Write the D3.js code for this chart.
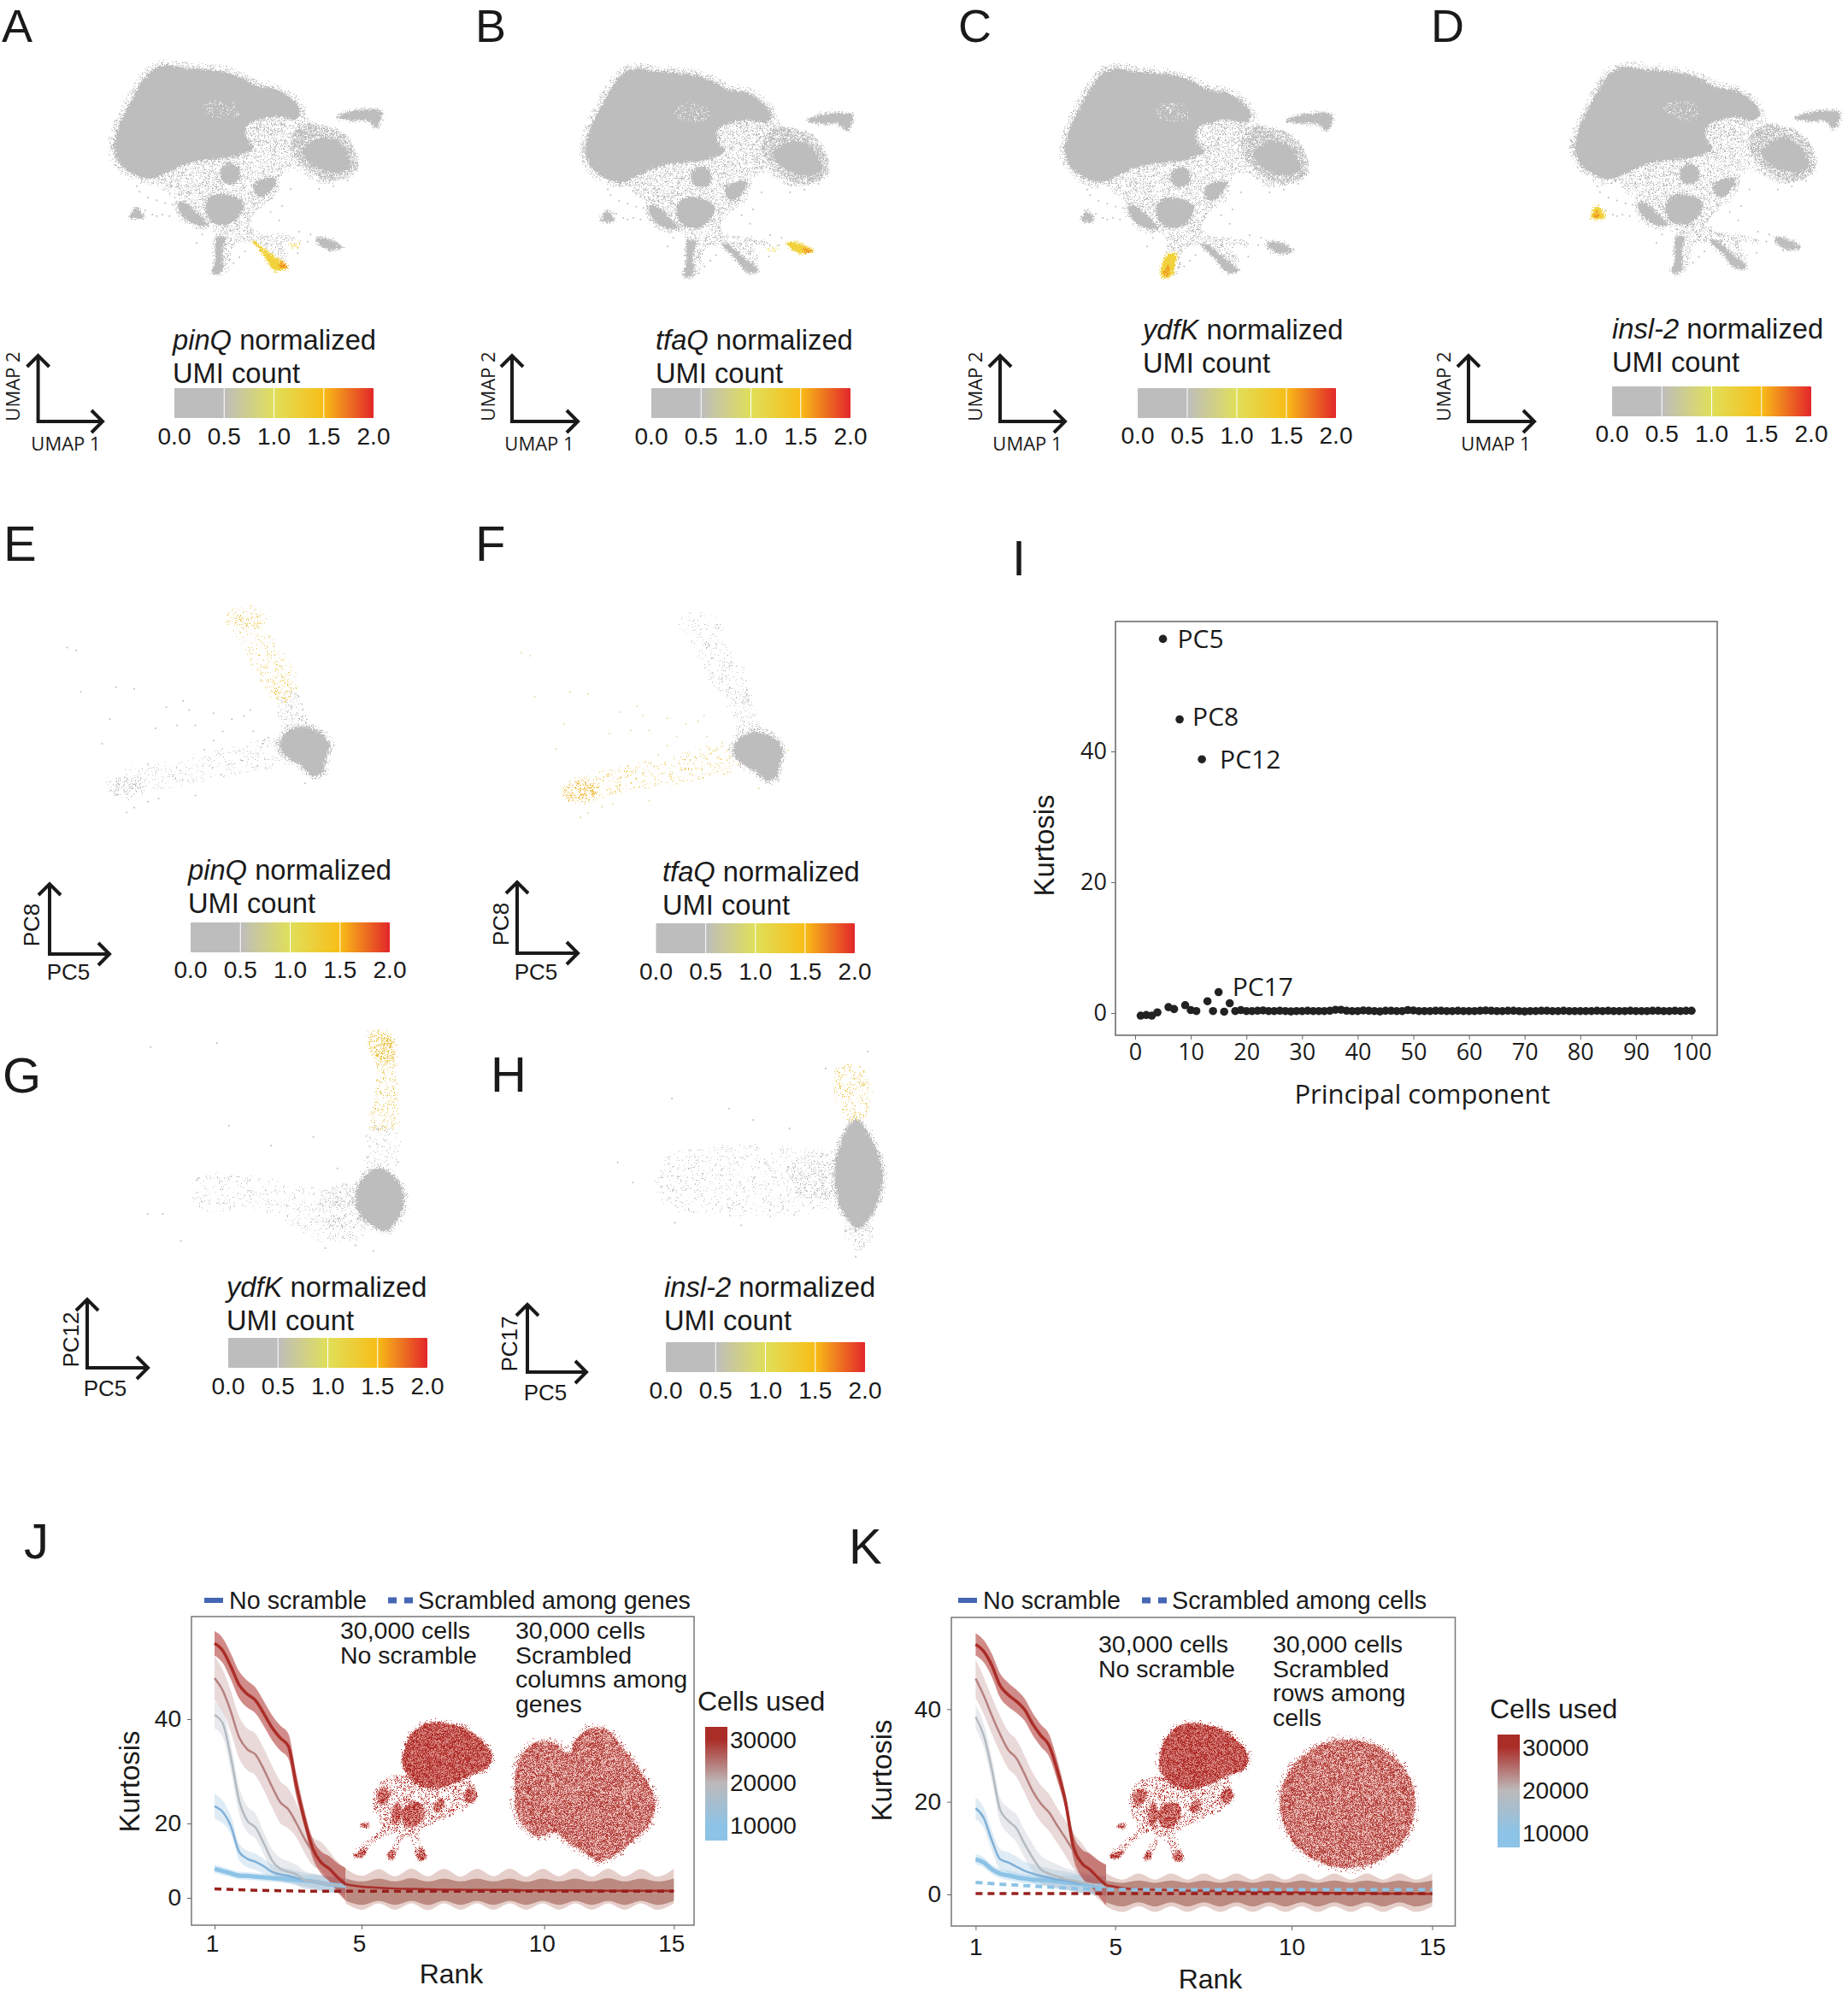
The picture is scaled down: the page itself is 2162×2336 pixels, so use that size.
<!DOCTYPE html>
<html>
<head>
<meta charset="utf-8">
<title>Kurtosis of principal components</title>
<script src="https://cdn.jsdelivr.net/npm/d3@7"></script>
<style>
    html, body { margin: 0; padding: 0; background: #fff; }
    svg { display: block; }
    text { font-family: "Liberation Sans", Arial, sans-serif; fill: #1a1a1a; }
    .soft text, text.soft { font-family: "Open Sans", sans-serif; }
</style>
</head>
<body>
<svg id="chart" width="2162" height="2336"></svg>
<script>
// ---- data ----

// UMAP outlines, in UMAP units
const umapMain = [[0.4,4.6],[0.45,5],[0.6,5.5],[0.9,6.1],[1.25,6.75],[1.7,7.35],[2.15,7.55],[2.9,7.45],[3.6,7.4],[4.3,7.3],[4.9,7.1],[5.4,6.82],[6.1,6.7],[6.6,6.4],[6.95,5.95],[6.8,5.65],[6.1,5.75],[5.6,5.65],[5.1,5.45],[5.05,5],[5.3,4.65],[4.7,4.35],[4,4.25],[3.2,4.15],[2.5,3.9],[1.7,3.55],[1.1,3.7],[0.6,4.1]];
const umapRightLobe = [[7,4.5],[7.4,4.9],[7.8,5],[8.3,4.8],[8.6,4.4],[8.7,4],[8.4,3.8],[8,3.8],[7.4,4.05]];
const umapRightOuter = [[6.6,5],[7.2,5.5],[7.7,5.45],[8.4,5.2],[8.85,4.6],[8.95,3.9],[8.5,3.55],[7.9,3.5],[7.2,3.9],[6.8,4.3]];
const umapBridge = [[5.2,5.65],[6.1,5.85],[6.9,6],[7.3,5.55],[7.7,5.3],[7.1,4.9],[6.7,4.4],[6.2,4.5],[5.4,4.7],[5.15,5.1]];
const umapSparse = [[1.9,3.6],[3,4.3],[5,5],[5.2,5.6],[6.8,5.7],[7.2,5.2],[7,4.3],[7.8,3.7],[8.2,3.5],[7.6,3.4],[6.7,3.9],[6.3,3.7],[6.1,3],[5.6,2.6],[5.2,2.1],[5.3,1.75],[6.6,1.55],[7,1.3],[6.3,1.35],[6.5,0.7],[5.8,0.7],[5.3,1.3],[4.6,1.2],[4.4,0.35],[3.9,0.35],[4,1.5],[3.6,2],[2.8,2.4],[2.5,2.9],[2.1,3.2]];
const umapPocket = [[3.6,6.2],[4.6,6.25],[4.75,5.75],[3.7,5.8]];
const umapBlobs = [
    [[4.15,3.9],[4.3,4.05],[4.55,4.1],[4.8,3.9],[4.8,3.55],[4.6,3.4],[4.3,3.4],[4.15,3.6]],
    [[5.4,3],[5.3,3.3],[5.6,3.55],[6.1,3.55],[5.95,3.2],[5.6,2.9]],
    [[3.65,2.75],[3.9,3],[4.6,2.95],[4.95,2.7],[4.8,2.25],[4.4,1.95],[3.9,2],[3.65,2.3]],
    [[2.65,2.7],[2.85,2.75],[3.5,2.2],[3.7,1.95],[3.4,1.9],[2.95,2.1],[2.7,2.4]]
];
const umapTriangle = [[0.98,2.2],[1.2,2.55],[1.45,2.2]];
const umapStripTop = [[8.2,5.72],[8.9,5.95],[9.8,5.9],[9.6,5.35],[9.3,5.6],[8.7,5.62]];
const umapStripRight = [[7.5,1.45],[7.9,1.45],[8.4,1.15],[8,1.05],[7.6,1.25]];
const umapTailBottom = [[4,1.5],[4.3,1.5],[4.2,0.95],[4.2,0.3],[3.85,0.25],[3.95,0.7]];
const umapTailRight = [[5.2,1.4],[5.4,1.4],[5.95,0.95],[6.5,0.45],[6.1,0.4],[5.75,0.8]];
const umapScatter = [[1.3,3.1],[1.6,2.9],[1.2,3.3],[1.5,2.45],[1.75,2.3],[1.9,2.25],[2.1,2.3],[2.35,2.25],[2.45,2.65],[1.9,2.8],[2.2,2.7],[6.6,3.2],[6.3,2.6],[5.9,2.4],[6.2,2.1],[6.9,1.7],[7.3,1.6],[7.2,1.35],[6.85,0.95],[5,1],[4.8,0.8],[4.6,0.6],[7.6,3.2],[8.1,3.3],[8.6,3.5],[3.3,1.3],[3.5,1.6]];

// where each gene is expressed on the UMAP
const pinqHigh = [[5.25,1.4],[5.35,1.35],[5.85,0.95],[6.5,0.45],[6,0.35],[5.75,0.75]];
const pinqCore = [[6.25,0.62],[6.5,0.5],[6.42,0.4],[6.2,0.45]];
const pinqSpot = [[6.55,1.3],[6.95,1.25],[6.85,1.1],[6.6,1.15]];
const tfaqHigh = [[7.5,1.45],[7.95,1.4],[8.4,1.15],[8.05,1.05],[7.6,1.25]];
const tfaqCore = [[8.05,1.28],[8.4,1.15],[8.1,1.05]];
const tfaqSpot = [[6.85,1.3],[7.2,1.3],[7.1,1.15],[6.85,1.15]];
const ydfkHigh = [[3.95,0.95],[4.3,1.05],[4.25,0.55],[4.15,0.25],[3.82,0.22]];
const ydfkCore = [[3.9,0.55],[4.08,0.6],[4.05,0.3],[3.88,0.28]];
const insl2High = [[0.98,2.2],[1.2,2.6],[1.48,2.2]];
const insl2Core = [[1.02,2.22],[1.2,2.42],[1.3,2.22]];

// PC5 against PC8 (panels E, F)
const pc8Blob = [[9.15,2.9],[9.35,3.35],[9.9,3.55],[10.5,3.35],[10.78,2.95],[10.65,2.4],[10.6,2.1],[10.25,1.95],[9.9,2.25],[9.4,2.55]];
const pc8ArmNear = [[9.1,4.45],[9.6,4.85],[10,4],[10.25,3.4],[9.5,3.3],[9.25,3.6]];
const pc8ArmFar = [[7.35,7.1],[7.7,7.5],[8.65,7.3],[8.95,6.4],[9.7,5.3],[9.75,4.6],[9.1,4.3],[8.55,5],[8.1,5.8],[7.75,6.5]];
const pc8ArmTip = [[7.6,7.15],[8.5,7.2],[8.5,6.8],[7.8,6.8]];
const pc8ArmMid = [[8.75,5.1],[9.45,5.2],[9.5,4.5],[9.1,4.5]];
const pc8ArmLeft = [[3.5,1.85],[4.2,2.2],[6,2.5],[8,3],[9.2,3.2],[9.4,2.4],[8.3,2.05],[6.4,1.7],[5,1.45],[4.2,1.15],[3.6,1.4]];
const pc8ArmLeftTip = [[3.6,1.75],[4.6,1.9],[4.7,1.5],[3.7,1.35]];
const pc8Scatter = [[2.2,6.15],[2.5,6.05],[2.65,4.7],[3.8,4.85],[4.4,4.8],[5.45,4.2],[6,4.4],[5.8,3.6],[5.1,3.5],[7,3.1],[6.4,3.6],[7.3,3.4],[8.3,3.4],[8.6,3],[3.35,3],[4.15,0.75],[4.85,1.1],[8,3.9],[7,4],[6.2,4.1],[7.6,3.8],[8.8,3.2],[3.6,3.8],[5.2,1.2],[4.4,0.9],[6.4,1.3],[10.95,2.95],[10,1.7],[8.2,4.1],[6.7,2.8]];

// PC5 against PC12 (panel G)
const pc12Blob = [[5.9,3.4],[6,4],[6.25,4.4],[6.55,4.1],[6.7,3.5],[6.65,2.8],[6.4,2.2],[6.1,2.5],[5.95,2.9]];
const pc12ArmHigh = [[6.05,9.1],[6.5,9.15],[6.6,8],[6.6,6.7],[6.6,5.8],[6.1,5.8],[6.2,6.7],[6.25,8]];
const pc12ArmTip = [[6.12,9.05],[6.5,9.05],[6.5,8.1],[6.25,8.1]];
const pc12ArmLow = [[6.1,5.8],[6.6,5.8],[6.55,4.4],[6,4.1],[6.1,5]];
const pc12ArmLeft = [[3.2,4],[3.6,4.2],[5.6,3.6],[6,3.6],[6,2],[5.3,1.9],[4.2,3],[3.3,2.9]];
const pc12ArmLeftNear = [[5.3,3.5],[6,3.8],[6,2.4],[5.3,2.5]];
const pc12Scatter = [[2.5,8.65],[3.6,8.8],[3.8,5.9],[2.7,2.8],[2.45,2.8],[3,1.85],[5.4,1.6],[5.9,1.7],[4.5,5.2],[5.6,4.4],[6.2,1.5],[5.2,5.5]];

// PC5 against PC17 (panel H)
const pc17Blob = [[13.85,4.1],[13.95,5.3],[14.2,6.1],[14.5,5.3],[14.65,4.1],[14.5,2.9],[14.25,2.3],[14,2.8]];
const pc17ArmHigh = [[13.8,7.4],[14,8.05],[14.35,7.9],[14.45,7],[14.3,6.05],[14.1,6.05]];
const pc17ArmLow = [[14,2.3],[14.5,2.3],[14.25,1.5]];
const pc17ArmLeft = [[11,4.8],[11.3,5],[13,5.2],[13.8,4.7],[13.9,3.2],[12.5,2.7],[11,3.2]];
const pc17ArmLeftNear = [[13.2,4.7],[13.9,4.9],[13.9,3.4],[13.2,3.5]];
const pc17Scatter = [[11.15,6.85],[12.1,6.5],[12.5,6.1],[10.25,4.6],[10.5,3.9],[13.1,5.8],[12.3,2.4],[11.2,2.5],[14.2,1.3],[14.2,1.9],[13.7,7.9],[14.4,8.5]];

// panel I: kurtosis of principal components 1 to 100
const kurtosisPC = [-0.4,-0.3,-0.4,0.1,57.2,0.9,0.6,44.9,1.2,0.45,0.3,38.8,1.8,0.3,3.2,0.2,1.5,0.3,0.45,0.3,
    0.3,0.35,0.4,0.3,0.3,0.35,0.3,0.25,0.3,0.3,0.35,0.3,0.3,0.3,0.35,0.5,0.5,0.35,0.3,0.3,
    0.4,0.35,0.3,0.25,0.35,0.35,0.3,0.3,0.45,0.4,0.3,0.3,0.3,0.35,0.35,0.3,0.3,0.35,0.3,0.3,
    0.3,0.35,0.4,0.35,0.3,0.3,0.35,0.35,0.3,0.25,0.3,0.3,0.35,0.35,0.3,0.3,0.35,0.3,0.3,0.3,
    0.3,0.3,0.35,0.3,0.35,0.3,0.3,0.3,0.35,0.3,0.3,0.3,0.35,0.35,0.3,0.3,0.35,0.3,0.35,0.35];
const labelledPCs = ["PC5","PC8","PC12","PC17"];

// panels J, K: kurtosis by rank, for a growing number of cells
const rankSteps = [1,1.25,1.5,1.75,2,2.25,2.5,2.75,3,3.25,3.5,3.75,4,4.25,4.5,4.75,5];
const cellCounts = [8000,12000,18000,24000,30000];
const meanJ8k  = [7.8,7.2,6.6,6,5.9,5.7,5.5,5.3,5.2,5,4.8,4.6,4.4,4,3.6,3.4,3.2];
const meanJ12k = [23.3,22.2,19.2,12.4,10.5,9.7,8.5,7,6.3,5.9,5.3,4.7,4.4,4,3.6,3.4,3.2];
const meanJ18k = [40.8,39.2,32.6,24.4,20.5,18.9,14.7,10.1,7.8,7,6.3,4.7,4.4,4,3.6,3.4,3.2];
const meanJ24k = [47.9,45.5,41.4,36.5,34.2,33.2,30.4,27.1,24.1,22.7,20,15.8,12.4,11.2,8.5,5.5,3.6];
const meanJ30k = [54.6,53.2,50.1,46.6,44.8,43.6,41.1,38.4,36.4,34.8,27.1,20.5,13.1,9.5,7.8,5.5,3.6];
const meanK8k  = [7.6,6.9,5.4,4.5,4.1,3.7,3.4,3.2,3.1,3,2.8,2.6,2.4,2.2,2,1.9,1.8];
const meanK12k = [18.6,16.5,11.6,7.6,6.9,6,5.1,4.5,4,3.6,3.2,3,2.6,2.4,2.2,2,1.8];
const meanK18k = [38.3,34.3,26.9,18.3,15.9,14.3,10.9,7.9,5.4,4.5,3.9,3.3,3,2.6,2.3,2,1.8];
const meanK24k = [46.6,42.9,38.6,34.6,31.2,29.4,26,22.3,19.6,17.7,14.9,12.2,9.4,7.3,4.8,3.3,2];
const meanK30k = [54,52.5,49.4,45.1,43.1,41.7,39.9,36.8,34.3,32.2,26.9,20.2,10.3,6.8,5.4,3.6,2];
const spread8k  = [1.1,1.1,1,1,1,1,1,1,1,1.1,1.3,1.5,1.7,2,2,2,2];
const spread12k = [2.4,2.2,2.2,2.2,2.2,2.2,2,2,2,2,2,2,2,2,2,2,2];
const spread18k = [2.6,2.6,2.6,2.6,2.8,3,3,3,3,2.8,2.6,2.4,2.2,2.2,2.2,2.2,2.2];
const spread24k = [4.2,4,4,4,4,4,4,4,4,4,3.8,3.8,3.8,3.8,4,4.2,4.4];
const spread30k = [2.4,2.4,2.5,2.6,2.6,2.5,2.4,2.4,2.4,2.4,2.2,1.8,2.6,3,3.4,3.8,4.4];

const rankTail = [5,5.5,6,6.5,7,7.5,8,8.5,9,9.5,10,10.5,11,11.5,12,12.5,13,13.5,14,14.5,15];
const tailMeanJ = [3.6,3,2.7,2.5,2.4,2.3,2.2,2.2,2.1,2.1,2.1,2,2,2,2,2,1.9,1.9,1.9,1.9,1.9];
const tailMeanK = [2,1.4,1.1,1,0.9,0.8,0.8,0.7,0.6,0.6,0.5,0.5,0.4,0.4,0.3,0.3,0.3,0.2,0.2,0.2,0.1];
const tailOuterUpJ = [7.8,5.9,7.7,5.8,7.9,5.8,7.8,5.7,7.8,5.8,7.9,5.7,7.8,5.8,7.8,5.7,7.9,5.8,7.7,5.7,7.8];
const tailInnerUpJ = [5.2,4.4,5.2,4.4,5.3,4.4,5.2,4.4,5.2,4.4,5.2,4.3,5.2,4.4,5.2,4.4,5.3,4.4,5.2,4.4,5.2];
const tailInnerLoJ = [-0.8,-1.9,-0.8,-1.9,-0.8,-1.9,-0.8,-1.9,-0.8,-1.9,-0.8,-1.9,-0.8,-1.9,-0.8,-1.9,-0.8,-1.9,-0.8,-1.9,-0.8];
const tailOuterLoJ = [-1.5,-3.2,-1.5,-3.2,-1.5,-3.3,-1.5,-3.2,-1.5,-3.2,-1.5,-3.2,-1.5,-3.2,-1.5,-3.2,-1.5,-3.2,-1.5,-3.2,-1.5];
const tailOuterUpK = [4.5,3.2,4.5,3.2,4.5,3.2,4.5,3.2,4.5,3.2,4.5,3.2,4.5,3.2,4.5,3.2,4.5,3.2,4.5,3.2,4.5];
const tailInnerUpK = [3,2.5,3,2.5,3,2.5,3,2.5,3,2.5,3,2.5,3,2.5,3,2.5,3,2.5,3,2.5,3];
const tailInnerLoK = [-1.7,-2.6,-1.7,-2.6,-1.7,-2.6,-1.7,-2.6,-1.7,-2.6,-1.7,-2.6,-1.7,-2.6,-1.7,-2.6,-1.7,-2.6,-1.7,-2.6,-1.7];
const tailOuterLoK = [-2.6,-3.8,-2.6,-3.8,-2.6,-3.8,-2.6,-3.8,-2.6,-3.8,-2.6,-3.8,-2.6,-3.8,-2.6,-3.8,-2.6,-3.8,-2.6,-3.8,-2.6];
const scrambleRanks = [1,2,3,4,5,7,9,11,13,15];
const scrambledJ = [2.4,2.1,1.9,1.8,1.8,1.8,1.8,1.8,1.8,1.8];
const scrambledKLow = [2.6,2.1,1.7,1.3,1.1,1,1,1,1,1];
const scrambledKRed = [0.2,0.2,0.2,0.2,0.2,0.2,0.2,0.2,0.2,0.2];

const rankTicks = ["1","5","10","15"];
const rankTickAtJ = [1,5.48,11.05,15];
const rankTickAtK = [1,5.28,10.69,15];
const kurtosisTicks = [0,20,40];

// shapes of the small red UMAPs inside J and K
const insetMain = [[7.55,7],[7.6,7.6],[7.85,8.15],[8.4,8.52],[9.2,8.5],[9.9,8.25],[10.65,7.45],[10.55,7],[9.9,6.7],[9.3,6.4],[8.5,6.25],[7.9,6.5]];
const insetBlobs = [
    [[6.65,6.1],[6.9,6.25],[7.1,6.05],[6.9,5.7],[6.7,5.7]],
    [[9.7,6.1],[10,6.3],[10.15,6],[9.95,5.75],[9.75,5.8]],
    [[8.6,5.55],[8.9,5.9],[9,5.7],[8.75,5.4]],
    [[7.5,5.4],[7.8,5.75],[8.2,5.7],[8.3,5.3],[7.95,4.9],[7.6,4.95]],
    [[7.15,5.4],[7.35,5.75],[7.5,5.3],[7.3,4.95],[7.2,5]],
    [[5.8,3.9],[6.3,4.1],[6.1,3.8]],
    [[6.05,4.95],[6.35,5.05],[6.3,4.85]],
    [[7,3.9],[7.2,4.1],[7.25,3.8],[7.05,3.75]],
    [[8.05,3.95],[8.25,4.1],[8.35,3.75],[8.05,3.75]]
];
const insetSparse = [[7.4,6.7],[8.8,6.2],[10,6.5],[9.9,5.7],[8.8,5.1],[8.1,4.7],[8.35,3.8],[8.1,3.8],[7.7,4.6],[7.2,3.85],[7.05,3.85],[7.4,4.7],[6.9,4.6],[5.9,3.85],[5.85,4],[6.8,4.9],[6.5,5.5],[6.7,6.4]];
const insetScrambledGenes = [[11.46,6],[11.6,7.2],[12,7.75],[12.5,7.9],[13,7.75],[13.35,7.45],[13.6,7.9],[14,8.3],[14.7,8.3],[15.3,7.6],[15.9,6.8],[16.4,5.8],[16.2,5],[15.6,4.4],[15,3.9],[14.4,3.7],[13.9,4],[13.4,4.3],[12.9,4.7],[12.3,4.55],[11.8,4.9],[11.5,5.5]];
const insetScrambledCells = [[16.52,5.73],[16.34,6.59],[15.83,7.32],[15.06,7.81],[14.15,7.98],[13.24,7.81],[12.47,7.32],[11.96,6.59],[11.78,5.73],[11.96,4.87],[12.47,4.14],[13.24,3.65],[14.15,3.48],[15.06,3.65],[15.83,4.14],[16.34,4.87]];

// colour legends
const umiTicks = [0,0.5,1,1.5,2];
const umiColors = ["#bdbdbd","#bdbdbd","#e0df5a","#f8bd17","#e2262a"];
const geneNames = ["pinQ","tfaQ","ydfK","insl-2"];
const cellsLegendTicks = [10000,20000,30000];
const cellsColors = ["#8cc3e6","#bdb9b9","#ab2d28"];

// ---- page ----
const svg = d3.select("#chart");
const defs = svg.append("defs");
const INK = "#1a1a1a", GRAY = "#bdbdbd", YEL = "#f1d23c", PALE = "#e9c548", ORG = "#f08c1e";

// grainy textures standing in for the thousands of overlapping cells
function grainFilter(id, freq, slope, cut, shake, seed) {
    const f = defs.append("filter").attr("id", id)
        .attr("x", "-15%").attr("y", "-15%").attr("width", "130%").attr("height", "130%")
        .attr("color-interpolation-filters", "sRGB");
    f.append("feTurbulence").attr("type", "fractalNoise").attr("baseFrequency", freq)
        .attr("numOctaves", 2).attr("seed", seed).attr("result", "noise");
    f.append("feColorMatrix").attr("in", "noise").attr("type", "matrix")
        .attr("values", "0 0 0 0 0  0 0 0 0 0  0 0 0 0 0  " + slope + " 0 0 0 " + cut).attr("result", "mask");
    f.append("feComposite").attr("in", "SourceGraphic").attr("in2", "mask").attr("operator", "in").attr("result", "grain");
    f.append("feDisplacementMap").attr("in", "grain").attr("in2", "noise").attr("scale", shake)
        .attr("xChannelSelector", "G").attr("yChannelSelector", "B");
}
grainFilter("fuzz", 0.6, 0, 1, 9, 3);
grainFilter("thin", 0.75, 14, -9.2, 9, 4);
grainFilter("rare", 0.75, 14, -8.6, 9, 5);
grainFilter("some", 0.75, 14, -7.6, 9, 7);
grainFilter("many", 0.75, 14, -6.4, 8, 11);

const outline = d3.line().curve(d3.curveCatmullRomClosed.alpha(0.5));

function drawShape(g, x, y, pts, color, grain) {
    g.append("path")
        .attr("d", outline(pts.map(d => [x(d[0]), y(d[1])])))
        .attr("fill", color)
        .attr("filter", grain ? "url(#" + grain + ")" : null);
}

// a solid cluster with a loose ring of cells round it
function drawCluster(g, x, y, pts, color, ring) {
    const d = outline(pts.map(p => [x(p[0]), y(p[1])]));
    g.append("path").attr("d", d).attr("fill", color).attr("stroke", color).attr("stroke-width", ring)
        .attr("filter", "url(#some)");
    g.append("path").attr("d", d).attr("fill", color).attr("filter", "url(#fuzz)");
}

function drawDots(g, x, y, pts, color, r) {
    g.selectAll(null).data(pts).join("circle")
        .attr("cx", d => x(d[0])).attr("cy", d => y(d[1])).attr("r", r).attr("fill", color);
}

function panelLetter(letter, px, py, size) {
    svg.append("text").attr("x", px).attr("y", py).attr("font-size", size || 58).text(letter);
}

function axisArrows(cfg) {
    const g = svg.append("g").attr("fill", "none").attr("stroke", INK).attr("stroke-width", 4);
    const s = 13;
    g.append("path").attr("d", "M" + cfg.cx + "," + cfg.top + "V" + cfg.cy + "H" + cfg.right);
    g.append("path").attr("d", "M" + (cfg.cx - s) + "," + (cfg.top + s) + "L" + cfg.cx + "," + cfg.top + "L" + (cfg.cx + s) + "," + (cfg.top + s));
    g.append("path").attr("d", "M" + (cfg.right - s) + "," + (cfg.cy - s) + "L" + cfg.right + "," + cfg.cy + "L" + (cfg.right - s) + "," + (cfg.cy + s));
    const fam = cfg.pc ? "Liberation Sans" : "Open Sans";
    svg.append("text").attr("x", cfg.xLabelX).attr("y", cfg.xLabelY).attr("text-anchor", "middle")
        .attr("font-size", cfg.size).style("font-family", fam).text(cfg.xLabel);
    svg.append("text").attr("transform", "translate(" + cfg.yLabelX + "," + cfg.yLabelY + ") rotate(-90)")
        .attr("text-anchor", "middle").attr("font-size", cfg.size).style("font-family", fam).text(cfg.yLabel);
}

// gradient shared by all the UMI colour bars
const umiColor = d3.scaleLinear().domain(umiTicks).range(umiColors);
const umiGrad = defs.append("linearGradient").attr("id", "umiGrad");
d3.range(0, 2.01, 0.125).forEach(function(v) {
    umiGrad.append("stop").attr("offset", v / 2).attr("stop-color", umiColor(v));
});

function umiLegend(gene, cfg) {
    const title = svg.append("text").attr("x", cfg.titleX).attr("y", cfg.titleY).attr("font-size", 32.7);
    title.append("tspan").attr("font-style", "italic").text(gene);
    title.append("tspan").text(" normalized");
    svg.append("text").attr("x", cfg.titleX).attr("y", cfg.titleY + 39).attr("font-size", 32.7).text("UMI count");

    const x = d3.scaleLinear().domain([0, 2]).range([cfg.barL, cfg.barR]);
    svg.append("rect").attr("x", cfg.barL).attr("y", cfg.barT).attr("width", cfg.barR - cfg.barL)
        .attr("height", 35).attr("rx", 1).attr("fill", "url(#umiGrad)");
    svg.append("g").selectAll("line").data(umiTicks.slice(1, 4)).join("line")
        .attr("x1", d => x(d)).attr("x2", d => x(d))
        .attr("y1", cfg.barT).attr("y2", cfg.barT + 35)
        .attr("stroke", "#fff").attr("stroke-width", 1);
    svg.append("g").selectAll("text").data(umiTicks).join("text")
        .attr("x", d => x(d)).attr("y", cfg.tickY).attr("text-anchor", "middle").attr("font-size", 28)
        .text(d => d.toFixed(1));
}

// ---- A to D: UMAP panels ----
const umapPanels = [
    { letterX: 2, x0: 120, y0: 61, k: 33.33, high: pinqHigh, core: pinqCore, spot: pinqSpot, hide: umapTailRight,
      arrows: { cx: 44.6, cy: 493, top: 416, right: 120, xLabelX: 77, yLabelX: 23 },
      legend: { titleX: 202, titleY: 409, barL: 204, barR: 437, barT: 454, tickY: 520 } },
    { letterX: 556, x0: 671, y0: 65, k: 33.33, high: tfaqHigh, core: tfaqCore, spot: tfaqSpot, hide: umapStripRight,
      arrows: { cx: 599, cy: 493, top: 416, right: 676, xLabelX: 631, yLabelX: 579 },
      legend: { titleX: 767, titleY: 409, barL: 762, barR: 995, barT: 454, tickY: 520 } },
    { letterX: 1121, x0: 1232, y0: 65, k: 33.33, high: ydfkHigh, core: ydfkCore, spot: null, hide: umapTailBottom,
      arrows: { cx: 1170, cy: 493, top: 416, right: 1246, xLabelX: 1202, yLabelX: 1149 },
      legend: { titleX: 1337, titleY: 397, barL: 1331, barR: 1563, barT: 454, tickY: 518.5 } },
    { letterX: 1674, x0: 1829, y0: 63, k: 33, high: insl2High, core: insl2Core, spot: null, hide: umapTriangle,
      arrows: { cx: 1718, cy: 493, top: 416, right: 1795, xLabelX: 1750, yLabelX: 1697 },
      legend: { titleX: 1886, titleY: 396, barL: 1886, barR: 2119, barT: 452, tickY: 517 } }
];

umapPanels.forEach(function(p, i) {
    panelLetter("ABCD"[i], p.letterX, 49, 54);
    const x = d3.scaleLinear().domain([0, 1]).range([p.x0, p.x0 + p.k]);
    const y = d3.scaleLinear().domain([0, 8]).range([p.y0 + 8 * p.k, p.y0]);
    const g = svg.append("g");

    drawShape(g, x, y, umapSparse, GRAY, "some");
    drawShape(g, x, y, umapBridge, GRAY, "some");
    drawShape(g, x, y, umapRightOuter, GRAY, "many");
    drawCluster(g, x, y, umapMain, GRAY, 12);
    drawCluster(g, x, y, umapRightLobe, GRAY, 12);
    drawShape(g, x, y, umapPocket, "#fff", "rare");
    umapBlobs.forEach(b => drawCluster(g, x, y, b, GRAY, 9));
    [umapTriangle, umapStripTop, umapStripRight, umapTailBottom, umapTailRight].forEach(function(b) {
        if (b !== p.hide) drawCluster(g, x, y, b, GRAY, 4);
    });
    drawDots(g, x, y, umapScatter, GRAY, 1);
    drawCluster(g, x, y, p.high, YEL, 3);
    drawShape(g, x, y, p.core, ORG, "many");
    if (p.spot) drawShape(g, x, y, p.spot, YEL, "some");

    axisArrows(Object.assign({ xLabel: "UMAP 1", yLabel: "UMAP 2", xLabelY: 527, yLabelY: 452, size: 22 }, p.arrows));
    umiLegend(geneNames[i], p.legend);
});

// ---- E to H: principal component panels ----
function pcScales(x0, y0, kx, ky) {
    return {
        x: d3.scaleLinear().domain([0, 1]).range([x0, x0 + kx]),
        y: d3.scaleLinear().domain([0, 10]).range([y0 + 10 * ky, y0])
    };
}

const e = pcScales(0, 620, 35.7, 35.7);
const f = pcScales(531, 626, 35.7, 35.7);
const gs = pcScales(0, 1180, 70.5, 33.33);
const hs = pcScales(0, 1180, 70.5, 33.33);

// E: pinQ along the upper arm
let pg = svg.append("g");
drawShape(pg, e.x, e.y, pc8ArmLeft, GRAY, "thin");
drawShape(pg, e.x, e.y, pc8ArmLeftTip, GRAY, "rare");
drawShape(pg, e.x, e.y, pc8ArmNear, GRAY, "rare");
drawShape(pg, e.x, e.y, pc8ArmFar, PALE, "thin");
drawShape(pg, e.x, e.y, pc8ArmTip, PALE, "rare");
drawShape(pg, e.x, e.y, pc8ArmMid, PALE, "rare");
drawCluster(pg, e.x, e.y, pc8Blob, GRAY, 9);
drawDots(pg, e.x, e.y, pc8Scatter, GRAY, 1);

// F: tfaQ along the left arm
pg = svg.append("g");
drawShape(pg, f.x, f.y, pc8ArmFar, GRAY, "thin");
drawShape(pg, f.x, f.y, pc8ArmNear, GRAY, "rare");
drawShape(pg, f.x, f.y, pc8ArmLeft, PALE, "thin");
drawShape(pg, f.x, f.y, pc8ArmLeftTip, "#efb52e", "some");
drawCluster(pg, f.x, f.y, pc8Blob, GRAY, 9);
drawDots(pg, f.x, f.y, pc8Scatter, "#e4dcae", 1);

// G: ydfK
pg = svg.append("g");
drawShape(pg, gs.x, gs.y, pc12ArmLeft, GRAY, "thin");
drawShape(pg, gs.x, gs.y, pc12ArmLeftNear, GRAY, "rare");
drawShape(pg, gs.x, gs.y, pc12ArmLow, GRAY, "thin");
drawShape(pg, gs.x, gs.y, pc12ArmHigh, PALE, "rare");
drawShape(pg, gs.x, gs.y, pc12ArmTip, PALE, "some");
drawCluster(pg, gs.x, gs.y, pc12Blob, GRAY, 8);
drawDots(pg, gs.x, gs.y, pc12Scatter, GRAY, 1);

// H: insl-2
pg = svg.append("g");
drawShape(pg, hs.x, hs.y, pc17ArmLeft, GRAY, "thin");
drawShape(pg, hs.x, hs.y, pc17ArmLeftNear, GRAY, "rare");
drawShape(pg, hs.x, hs.y, pc17ArmLow, GRAY, "rare");
drawShape(pg, hs.x, hs.y, pc17ArmHigh, PALE, "rare");
drawCluster(pg, hs.x, hs.y, pc17Blob, GRAY, 8);
drawDots(pg, hs.x, hs.y, pc17Scatter, GRAY, 1);

panelLetter("E", 4, 656);
panelLetter("F", 556, 656);
panelLetter("G", 3, 1278);
panelLetter("H", 574, 1277);
panelLetter("J", 28, 1823);
panelLetter("K", 993, 1829);

axisArrows({ cx: 58, cy: 1116, top: 1034, right: 128, xLabel: "PC5", yLabel: "PC8", xLabelX: 80, xLabelY: 1146, yLabelX: 46, yLabelY: 1082, size: 26, pc: true });
axisArrows({ cx: 605, cy: 1115, top: 1032, right: 676, xLabel: "PC5", yLabel: "PC8", xLabelX: 627, xLabelY: 1146, yLabelX: 595, yLabelY: 1081, size: 26, pc: true });
axisArrows({ cx: 102, cy: 1600, top: 1520, right: 173, xLabel: "PC5", yLabel: "PC12", xLabelX: 123, xLabelY: 1633, yLabelX: 92, yLabelY: 1567, size: 26, pc: true });
axisArrows({ cx: 617, cy: 1605, top: 1526, right: 686, xLabel: "PC5", yLabel: "PC17", xLabelX: 638, xLabelY: 1638, yLabelX: 605, yLabelY: 1572, size: 26, pc: true });

umiLegend(geneNames[0], { titleX: 220, titleY: 1029, barL: 223, barR: 456, barT: 1079, tickY: 1144 });
umiLegend(geneNames[1], { titleX: 775, titleY: 1031, barL: 767.5, barR: 1000, barT: 1080, tickY: 1146 });
umiLegend(geneNames[2], { titleX: 265, titleY: 1517, barL: 267, barR: 500, barT: 1565, tickY: 1631 });
umiLegend(geneNames[3], { titleX: 777, titleY: 1517, barL: 779, barR: 1012, barT: 1570, tickY: 1636 });

// ---- I: kurtosis of each principal component ----
(function() {
    const L = 1305, R = 2009, T = 727, B = 1211;
    const x = d3.scaleLinear().domain([0, 100]).range([1328, 1979]);
    const y = d3.scaleLinear().domain([0, 40]).range([1185, 879]);
    const g = svg.append("g").attr("class", "soft");

    panelLetter("I", 1184, 673);

    g.append("g").selectAll("circle").data(kurtosisPC).join("circle")
        .attr("cx", (d, i) => x(i + 1)).attr("cy", d => y(d)).attr("r", 4.8).attr("fill", "#222");

    g.append("rect").attr("x", L).attr("y", T).attr("width", R - L).attr("height", B - T)
        .attr("fill", "none").attr("stroke", "#666").attr("stroke-width", 1.5);

    const ax = g.append("g").attr("transform", "translate(0," + B + ")")
        .call(d3.axisBottom(x).tickValues(d3.range(0, 101, 10)).tickSize(5).tickPadding(5));
    const ay = g.append("g").attr("transform", "translate(" + L + ",0)")
        .call(d3.axisLeft(y).tickValues(kurtosisTicks).tickSize(5).tickPadding(5));
    [ax, ay].forEach(function(a) {
        a.select(".domain").remove();
        a.selectAll("line").attr("stroke", "#666");
        a.selectAll("text").attr("font-size", 27).style("font-family", "Open Sans").attr("fill", INK);
    });

    labelledPCs.forEach(function(name, i) {
        const pc = +name.slice(2);
        const off = [[17, 11], [15, 7], [21, 11], [16, 4]][i];
        // PC17 sits beside the point at component 15 in the figure
        const px = x(i === 3 ? 15 : pc) + off[0];
        const py = y(kurtosisPC[i === 3 ? 14 : pc - 1]) + off[1];
        g.append("text").attr("x", px).attr("y", py).attr("font-size", 30).style("font-family", "Open Sans").text(name);
    });

    g.append("text").attr("transform", "translate(1233,989) rotate(-90)").attr("text-anchor", "middle")
        .attr("font-size", 33).style("font-family", "Liberation Sans").text("Kurtosis");
    g.append("text").attr("x", 1664).attr("y", 1291).attr("text-anchor", "middle")
        .attr("font-size", 31).style("font-family", "Open Sans").text("Principal component");
})();

// ---- J, K: rank plots ----
const cellColor = d3.scaleLinear().domain(cellsLegendTicks).range(cellsColors).clamp(true);

const cellsGrad = defs.append("linearGradient").attr("id", "cellsGrad")
    .attr("x1", 0).attr("x2", 0).attr("y1", 1).attr("y2", 0);
[6500, 10000, 15000, 20000, 25000, 30000, 33000].forEach(function(v) {
    cellsGrad.append("stop").attr("offset", (v - 6500) / 26500).attr("stop-color", cellColor(v));
});

function insetUmap(x0, y0, scrambledShape) {
    const x = d3.scaleLinear().domain([0, 1]).range([x0, x0 + 33.33]);
    const y = d3.scaleLinear().domain([0, 12]).range([y0 + 400, y0]);
    const g = svg.append("g");
    drawShape(g, x, y, insetSparse, "#b8352f", "some");
    drawShape(g, x, y, insetMain, "#d98a85", "fuzz");
    drawShape(g, x, y, insetMain, "#ae2a26", "many");
    g.append("path").attr("d", outline(insetMain.map(p => [x(p[0]), y(p[1])])))
        .attr("fill", "none").attr("stroke", "#ae2a26").attr("stroke-width", 8).attr("filter", "url(#rare)");
    insetBlobs.forEach(function(b) {
        drawShape(g, x, y, b, "#e0a09b", "fuzz");
        drawShape(g, x, y, b, "#ae2a26", "many");
    });
    drawShape(g, x, y, scrambledShape, "#edc0bc", "fuzz");
    drawShape(g, x, y, scrambledShape, "#b3403b", "many");
    g.append("path").attr("d", outline(scrambledShape.map(p => [x(p[0]), y(p[1])])))
        .attr("fill", "none").attr("stroke", "#b8423d").attr("stroke-width", 10).attr("filter", "url(#rare)");
}

function rankPlot(cfg) {
    const x = d3.scaleLinear().domain([1, 15]).range(cfg.xRange);
    const y = d3.scaleLinear().domain(cfg.yDomain).range(cfg.yRange);
    const line = d3.line().x(d => x(d[0])).y(d => y(d[1])).curve(d3.curveMonotoneX);
    const area = d3.area().x(d => x(d[0])).y0(d => y(d[1])).y1(d => y(d[2])).curve(d3.curveMonotoneX);
    const g = svg.append("g");

    // bands first, lines over them
    cellCounts.forEach(function(c, i) {
        const pts = rankSteps.map((r, j) => [r, cfg.means[i][j] - cfg.spreads[i][j], cfg.means[i][j] + cfg.spreads[i][j]]);
        g.append("path").attr("d", area(pts)).attr("fill", cellColor(c)).attr("fill-opacity", i === 4 ? 0.55 : 0.3);
    });
    g.append("path").attr("d", area(rankTail.map((r, j) => [r, cfg.tailOuter[1][j], cfg.tailOuter[0][j]]))).attr("fill", "#e6cfca");
    g.append("path").attr("d", area(rankTail.map((r, j) => [r, cfg.tailInner[1][j], cfg.tailInner[0][j]]))).attr("fill", "#bb8a81");
    cellCounts.forEach(function(c, i) {
        g.append("path").attr("d", line(rankSteps.map((r, j) => [r, cfg.means[i][j]])))
            .attr("fill", "none").attr("stroke", i === 1 ? "#7fb0d8" : cellColor(c))
            .attr("stroke-width", i === 0 ? 5 : (i === 4 ? 3.5 : 2.5));
    });
    g.append("path").attr("d", line(rankTail.map((r, j) => [r, cfg.tailMean[j]])))
        .attr("fill", "none").attr("stroke", cellColor(30000)).attr("stroke-width", 2.5);
    cfg.scrambled.forEach(function(s) {
        g.append("path").attr("d", line(scrambleRanks.map((r, j) => [r, s.values[j]])))
            .attr("fill", "none").attr("stroke", s.color).attr("stroke-width", s.width).attr("stroke-dasharray", "8 6");
    });

    g.append("rect").attr("x", cfg.L).attr("y", cfg.T).attr("width", cfg.R - cfg.L).attr("height", cfg.B - cfg.T)
        .attr("fill", "none").attr("stroke", "#777").attr("stroke-width", 1.5);

    const ax = g.append("g").attr("transform", "translate(0," + cfg.B + ")")
        .call(d3.axisBottom(x).tickValues(cfg.tickAt).tickSize(5).tickPadding(cfg.xPad)
            .tickFormat((d, i) => rankTicks[i]));
    const ay = g.append("g").attr("transform", "translate(" + cfg.L + ",0)")
        .call(d3.axisLeft(y).tickValues(kurtosisTicks).tickSize(5).tickPadding(7));
    [ax, ay].forEach(function(a) {
        a.select(".domain").remove();
        a.selectAll("line").attr("stroke", "#666");
        a.selectAll("text").attr("font-size", 28).attr("fill", INK).style("font-family", "Liberation Sans");
    });
    ax.selectAll("text").attr("dx", cfg.xLabelShift);

    g.append("text").attr("transform", "translate(" + cfg.yTitleX + "," + cfg.yTitleY + ") rotate(-90)")
        .attr("text-anchor", "middle").attr("font-size", 33).text("Kurtosis");
    g.append("text").attr("x", cfg.xTitleX).attr("y", cfg.xTitleY).attr("text-anchor", "middle")
        .attr("font-size", 32).text("Rank");

    // line style legend above the frame
    const ly = 1872;
    g.append("line").attr("x1", cfg.keyX).attr("x2", cfg.keyX + 22).attr("y1", ly).attr("y2", ly)
        .attr("stroke", "#4466b3").attr("stroke-width", 6);
    g.append("text").attr("x", cfg.keyX + 29).attr("y", 1882).attr("font-size", 28.7).text("No scramble");
    g.append("line").attr("x1", cfg.key2X).attr("x2", cfg.key2X + 29).attr("y1", ly).attr("y2", ly)
        .attr("stroke", "#4466b3").attr("stroke-width", 7).attr("stroke-dasharray", "10 9");
    g.append("text").attr("x", cfg.key2X + 35).attr("y", 1882).attr("font-size", 28.7).text(cfg.key2Text);

    // notes inside the frame
    cfg.notes.forEach(function(n) {
        n.lines.forEach(function(t, i) {
            g.append("text").attr("x", n.x).attr("y", n.y + i * 28.7).attr("font-size", 28.5).text(t);
        });
    });

    // cells used
    g.append("text").attr("x", cfg.cellsX).attr("y", cfg.cellsY).attr("font-size", 32).text("Cells used");
    const by = d3.scaleLinear().domain([6500, 33000]).range([cfg.barB, cfg.barT]);
    g.append("rect").attr("x", cfg.barX).attr("y", cfg.barT).attr("width", 26).attr("height", cfg.barB - cfg.barT)
        .attr("fill", "url(#cellsGrad)");
    g.selectAll(null).data(cellsLegendTicks).join("text")
        .attr("x", cfg.barX + 29).attr("y", d => by(d) + 10).attr("font-size", 28).text(d => d);
}

rankPlot({
    L: 224, R: 812, T: 1891, B: 2252,
    xRange: [251, 788.3], tickAt: rankTickAtJ, xPad: 6, xLabelShift: -3,
    yDomain: [-8, 0, 20, 40, 60], yRange: [2255, 2220, 2133, 2011, 1889.4],
    means: [meanJ8k, meanJ12k, meanJ18k, meanJ24k, meanJ30k],
    spreads: [spread8k, spread12k, spread18k, spread24k, spread30k],
    tailMean: tailMeanJ, tailOuter: [tailOuterUpJ, tailOuterLoJ], tailInner: [tailInnerUpJ, tailInnerLoJ],
    scrambled: [{ values: scrambledJ, color: "#98211e", width: 3.5 }],
    yTitleX: 163, yTitleY: 2084, xTitleX: 528, xTitleY: 2320,
    keyX: 239, key2X: 454, key2Text: "Scrambled among genes",
    notes: [{ x: 398, y: 1917, lines: ["30,000 cells", "No scramble"] },
            { x: 603, y: 1917, lines: ["30,000 cells", "Scrambled", "columns among", "genes"] }],
    cellsX: 816, cellsY: 2001, barX: 825, barT: 2020, barB: 2153
});
insetUmap(220, 1900, insetScrambledGenes);

rankPlot({
    L: 1113, R: 1702.5, T: 1892, B: 2253,
    xRange: [1141.4, 1675.5], tickAt: rankTickAtK, xPad: 9, xLabelShift: 0,
    yDomain: [0, 40], yRange: [2216, 1999.3],
    means: [meanK8k, meanK12k, meanK18k, meanK24k, meanK30k],
    spreads: [spread8k, spread12k, spread18k, spread24k, spread30k],
    tailMean: tailMeanK, tailOuter: [tailOuterUpK, tailOuterLoK], tailInner: [tailInnerUpK, tailInnerLoK],
    scrambled: [{ values: scrambledKLow, color: "#8cc3e6", width: 4 }, { values: scrambledKRed, color: "#98211e", width: 3.5 }],
    yTitleX: 1043, yTitleY: 2071, xTitleX: 1416, xTitleY: 2326,
    keyX: 1121, key2X: 1336, key2Text: "Scrambled among cells",
    notes: [{ x: 1285, y: 1933, lines: ["30,000 cells", "No scramble"] },
            { x: 1489, y: 1933, lines: ["30,000 cells", "Scrambled", "rows among", "cells"] }],
    cellsX: 1743, cellsY: 2010, barX: 1752, barT: 2029, barB: 2161
});
insetUmap(1105, 1901, insetScrambledCells);
</script>
</body>
</html>
